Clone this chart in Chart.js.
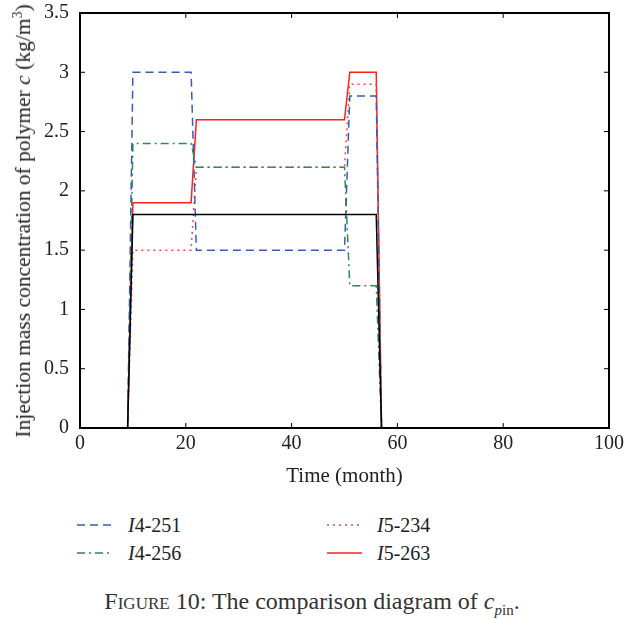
<!DOCTYPE html>
<html>
<head>
<meta charset="utf-8">
<script src="https://cdn.jsdelivr.net/npm/chart.js@4.4.0/dist/chart.umd.min.js"></script>
<style>
	body { margin: 0; background: #fff; width: 624px; height: 620px; position: relative; overflow: hidden; font-family: "Liberation Serif", serif; color: #222; }
	#wrap { position: absolute; left: 0; top: 0; width: 624px; height: 500px; }
	#yTitle { position: absolute; left: 23px; top: 221px; transform: translate(-50%, -50%) rotate(-90deg); white-space: nowrap; font-size: 21.5px; }
	.leg { position: absolute; font-size: 20px; white-space: nowrap; height: 24px; }
	.leg svg { position: absolute; left: 0; top: 6px; }
	.leg span { position: absolute; top: 0; line-height: 24px; }
	#caption { position: absolute; left: 0; width: 624px; top: 587px; text-align: center; font-size: 24px; line-height: 28px; color: #333; }
</style>
</head>
<body>
<div id="wrap"><canvas id="cpinChart"></canvas></div>
<div id="yTitle">Injection mass concentration of polymer <i>c</i> (kg/m<sup style="font-size:14px">3</sup>)</div>

<div class="leg" style="left:77px;top:513px"><svg width="36" height="12"><line x1="0" y1="6" x2="36" y2="6" stroke="#3a5cb0" stroke-width="1.5" stroke-dasharray="8,5"/></svg><span style="left:51px"><i>I</i>4-251</span></div>
<div class="leg" style="left:77px;top:541px"><svg width="36" height="12"><line x1="0" y1="6" x2="36" y2="6" stroke="#2e8b4a" stroke-width="1.5" stroke-dasharray="8,4,2,4"/></svg><span style="left:51px"><i>I</i>4-256</span></div>
<div class="leg" style="left:327px;top:513px"><svg width="35" height="12"><line x1="0" y1="6" x2="35" y2="6" stroke="#f04848" stroke-width="1.5" stroke-dasharray="2,4"/></svg><span style="left:50px"><i>I</i>5-234</span></div>
<div class="leg" style="left:327px;top:541px"><svg width="35" height="12"><line x1="0" y1="6" x2="35" y2="6" stroke="#ff2020" stroke-width="1.5"/></svg><span style="left:50px"><i>I</i>5-263</span></div>

<div id="caption"><span style="font-variant: small-caps">Figure</span> 10: The comparison diagram of <i>c</i><sub style="font-size:15px"><i>p</i>in</sub>.</div>

<script>
// time in months
var months = [0, 9, 10, 21, 22, 50, 51, 56, 57, 100];

var i4_251 = [0, 0, 3.0, 3.0, 1.5, 1.5, 2.8, 2.8, 0, 0];
var i4_256 = [0, 0, 2.4, 2.4, 2.2, 2.2, 1.2, 1.2, 0, 0];
var i5_234 = [0, 0, 1.5, 1.5, 2.2, 2.2, 2.9, 2.9, 0, 0];
var i5_263 = [0, 0, 1.9, 1.9, 2.6, 2.6, 3.0, 3.0, 0, 0];
var other  = [0, 0, 1.8, 1.8, 1.8, 1.8, 1.8, 1.8, 0, 0];

var xTicks = [0, 20, 40, 60, 80, 100];
var yTicks = [0, 0.5, 1, 1.5, 2, 2.5, 3, 3.5];

function toPoints(vals) {
	var pts = [];
	for (var i = 0; i < months.length; i++) {
		pts.push({ x: months[i], y: vals[i] });
	}
	return pts;
}

function makeSet(label, vals, color, dash) {
	return {
		label: label,
		data: toPoints(vals),
		borderColor: color,
		borderWidth: 1.5,
		borderDash: dash,
		pointRadius: 0,
		fill: false,
		tension: 0
	};
}

// ticks pointing inward on all four sides, plus the frame
var frameTicks = {
	id: 'frameTicks',
	afterDatasetsDraw(chart) {
		var ctx = chart.ctx;
		var a = chart.chartArea;
		var xs = chart.scales.x, ys = chart.scales.y;
		ctx.save();
		ctx.strokeStyle = '#000';
		ctx.lineWidth = 1;
		for (const t of xTicks) {
			var px = xs.getPixelForValue(t);
			ctx.beginPath();
			ctx.moveTo(px, a.bottom); ctx.lineTo(px, a.bottom - 5);
			ctx.moveTo(px, a.top); ctx.lineTo(px, a.top + 5);
			ctx.stroke();
		}
		for (const t of yTicks) {
			var py = ys.getPixelForValue(t);
			ctx.beginPath();
			ctx.moveTo(a.left, py); ctx.lineTo(a.left + 5, py);
			ctx.moveTo(a.right, py); ctx.lineTo(a.right - 5, py);
			ctx.stroke();
		}
		ctx.lineWidth = 2;
		ctx.strokeRect(a.left, a.top, a.right - a.left, a.bottom - a.top);
		ctx.restore();
	}
};

var canvas = document.getElementById('cpinChart');
canvas.width = 624;
canvas.height = 500;

new Chart(canvas.getContext('2d'), {
	type: 'line',
	data: {
		datasets: [
			makeSet('other', other, '#000000', []),
			makeSet('I4-251', i4_251, '#3a5cb0', [8, 5]),
			makeSet('I4-256', i4_256, '#2e8b4a', [8, 4, 2, 4]),
			makeSet('I5-234', i5_234, '#f04848', [2, 4]),
			makeSet('I5-263', i5_263, '#ff2020', [])
		]
	},
	options: {
		responsive: false,
		animation: false,
		layout: { padding: { left: 0, right: 15, top: 13, bottom: 0 } },
		plugins: { legend: { display: false }, tooltip: { enabled: false } },
		scales: {
			x: {
				type: 'linear',
				min: 0, max: 100,
				afterBuildTicks: function (s) { s.ticks = xTicks.map(v => ({ value: v })); },
				afterFit: function (s) { s.height = 72; s.paddingLeft = 0; s.paddingRight = 0; },
				grid: { display: false, drawTicks: false },
				border: { display: false },
				ticks: { color: '#222', font: { family: 'Liberation Serif', size: 20 }, padding: 4, maxRotation: 0,
					callback: function (v) { return String(v); } },
				title: { display: true, text: 'Time (month)', color: '#222', font: { family: 'Liberation Serif', size: 21 }, padding: { top: 4, bottom: 11 } }
			},
			y: {
				type: 'linear',
				min: 0, max: 3.5,
				afterBuildTicks: function (s) { s.ticks = yTicks.map(v => ({ value: v })); },
				afterFit: function (s) { s.width = 80; s.paddingTop = 0; s.paddingBottom = 0; },
				grid: { display: false, drawTicks: false },
				border: { display: false },
				ticks: { color: '#222', font: { family: 'Liberation Serif', size: 20 }, padding: 11,
					callback: function (v) { return String(v); } }
			}
		}
	},
	plugins: [frameTicks]
});
</script>
</body>
</html>
